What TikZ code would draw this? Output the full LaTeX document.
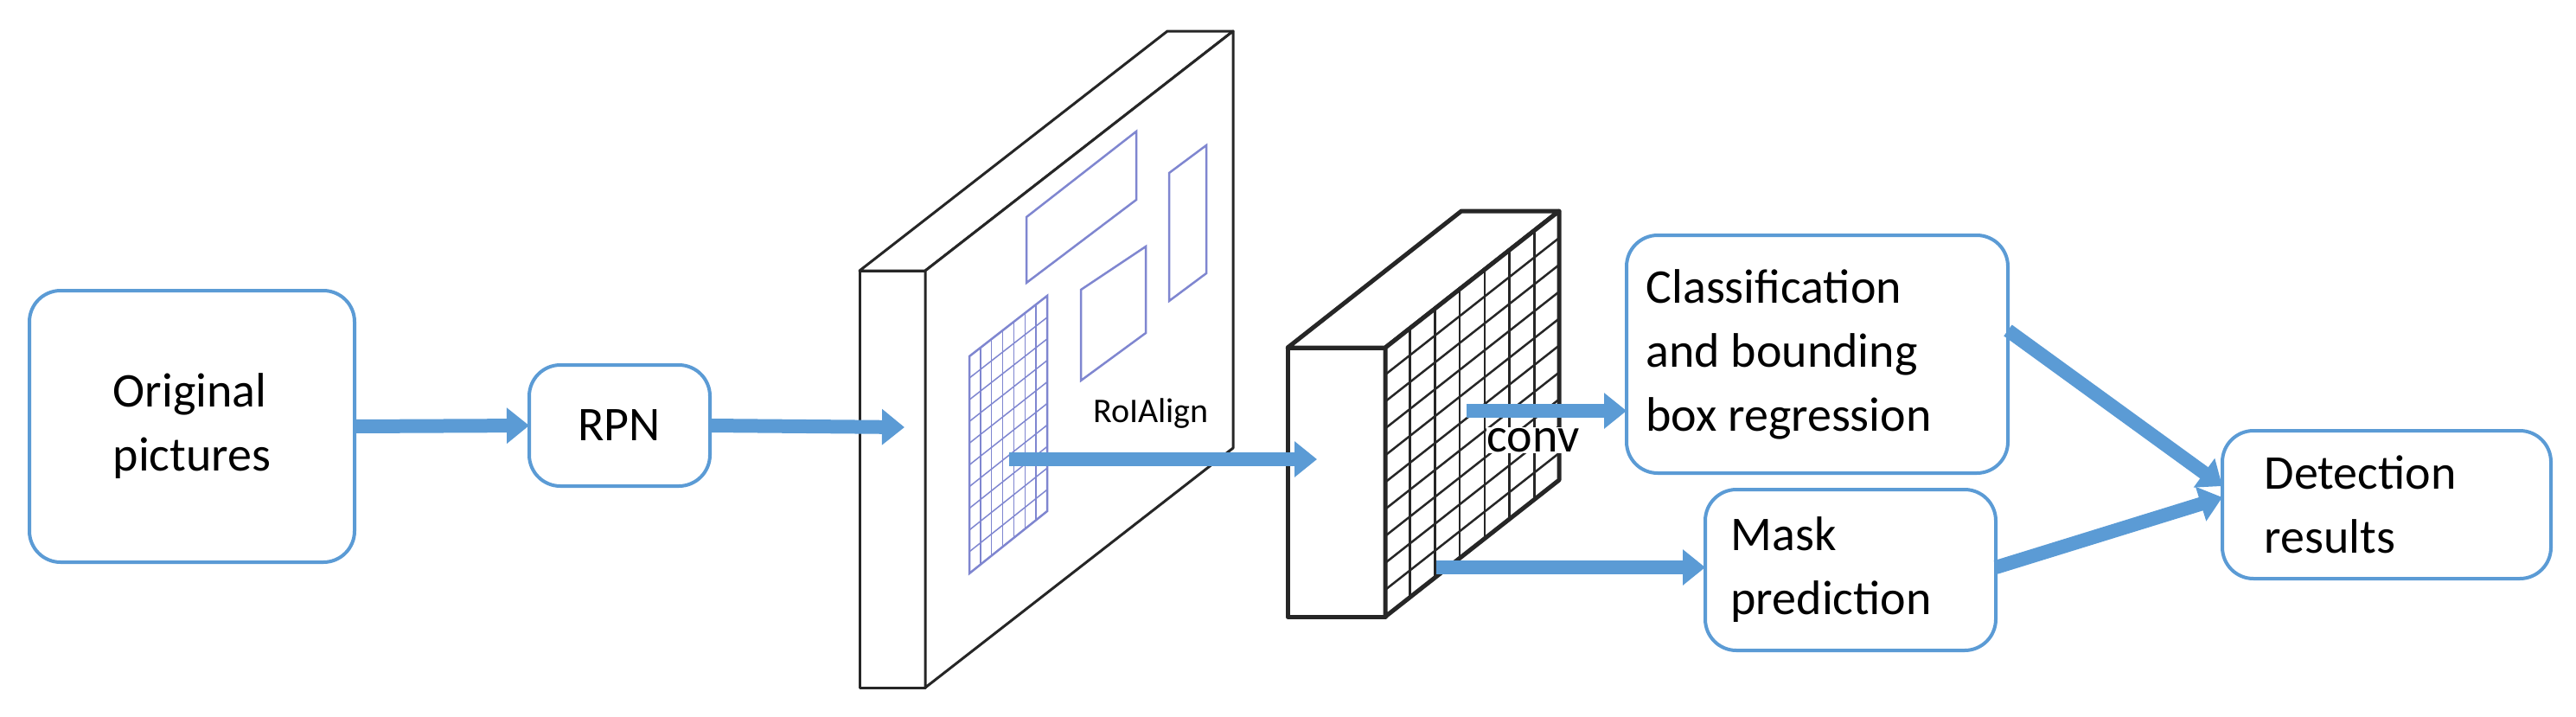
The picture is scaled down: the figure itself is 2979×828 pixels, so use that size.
\documentclass[tikz,border=0pt]{standalone}
\usepackage{fontspec}
\setmainfont{Carlito}
\usetikzlibrary{arrows.meta}
\definecolor{bx}{HTML}{5B9BD5}
\definecolor{bxd}{HTML}{41719C}
\definecolor{gr}{HTML}{7F86D0}
\begin{document}
\begin{tikzpicture}[x=1pt,y=-1pt,
  box/.style={draw=bx,line width=4pt,rounded corners=36pt,fill=white},
  txt/.style={font=\fontsize{56}{74}\selectfont,align=left},
  barr/.style={draw=bx,line width=16pt,-{Triangle[width=40pt,length=26pt]}},
  slab/.style={draw=black!85,line width=3pt,line join=round,fill=white},
  blk/.style={draw=black!85,line width=5pt,line join=round,fill=white},
  roi/.style={draw=gr,line width=2.5pt},
  grd/.style={draw=gr,line width=1.5pt}]
\useasboundingbox (0,0) rectangle (2979,828);
% boxes
\draw[box] (34,336) rectangle (410,650);
\node[txt] (orig) at (222,493) {Original\\pictures};
\coordinate (origE) at (410,493);
\draw[box] (612,422) rectangle (821,562);
\node[txt] (rpn) at (716,492) {RPN};
\coordinate (rpnW) at (612,492);
\coordinate (rpnE) at (821,492);
\draw[box] (1881,272) rectangle (2322,547);
\node[txt,anchor=west] (cls) at (1900,410) {Classification\\and bounding\\box regression};
\draw[box] (1972,566) rectangle (2308,752);
\node[txt,anchor=west] (mask) at (1998,659) {Mask\\prediction};
\draw[box] (2570,498) rectangle (2950,669);
\node[txt,anchor=west] (det) at (2615,583) {Detection\\results};
% big slab
\draw[slab] (994,313) rectangle (1070,795);
\draw[slab] (994,313) -- (1350,36) -- (1426,36) -- (1070,313) -- cycle;
\draw[slab] (1070,313) -- (1426,36) -- (1426,518) -- (1070,795) -- cycle;
% roi rectangles
\draw[roi] (1187,251) -- (1314,152) -- (1314,231) -- (1187,327) -- cycle;
\draw[roi] (1250,335) -- (1325,285) -- (1325,385) -- (1250,440) -- cycle;
\draw[roi] (1352,200) -- (1395,168) -- (1395,316) -- (1352,348) -- cycle;
% roi grid
\foreach \i in {1,...,6}{
  \draw[grd] ({1121+90*\i/7},{412-70*\i/7}) -- ({1121+90*\i/7},{663-72*\i/7});}
\foreach \j in {1,...,9}{
  \draw[grd] (1121,{412+251*\j/10}) -- (1211,{342+249*\j/10});}
\draw[roi] (1121,412) -- (1211,342) -- (1211,591) -- (1121,663) -- cycle;
\node[font=\fontsize{40}{48}\selectfont] (roilbl) at (1331,478) {RoIAlign};
% small block
\draw[blk] (1489,402) rectangle (1602,713);
\draw[blk] (1489,402) -- (1690,244) -- (1803,244) -- (1602,402) -- cycle;
\draw[blk] (1602,402) -- (1803,244) -- (1803,555) -- (1602,713) -- cycle;
\foreach \i in {1,...,6}{
  \draw[draw=black!85,line width=2.5pt] ({1602+201*\i/7},{402-158*\i/7}) -- ({1602+201*\i/7},{713-158*\i/7});}
\foreach \j in {1,...,9}{
  \draw[draw=black!85,line width=2.5pt] (1602,{402+311*\j/10}) -- (1803,{244+311*\j/10});}
\node[font=\fontsize{56}{64}\selectfont,fill=white,inner sep=1pt] (conv) at (1773,509) {conv};
% connector points
\coordinate (slabIn) at (1046,494);
\coordinate (roiS) at (1167,531);
\coordinate (blkIn) at (1523,531);
\coordinate (convS) at (1696,475);
\coordinate (clsW) at (1881,475);
\coordinate (blkS) at (1661,656);
\coordinate (maskW) at (1972,656);
\coordinate (clsE) at (2322,382);
\coordinate (maskE) at (2308,656);
\coordinate (detA) at (2570,562);
\coordinate (detB) at (2570,575);
% arrows
\draw[barr] (origE) -- (rpnW);
\draw[barr] (rpnE) -- (slabIn);
\draw[barr] (roiS) -- (blkIn);
\draw[barr] (convS) -- (clsW);
\draw[barr] (blkS) -- (maskW);
\draw[barr] (clsE) -- (detA);
\draw[barr] (maskE) -- (detB);
\end{tikzpicture}
\end{document}
